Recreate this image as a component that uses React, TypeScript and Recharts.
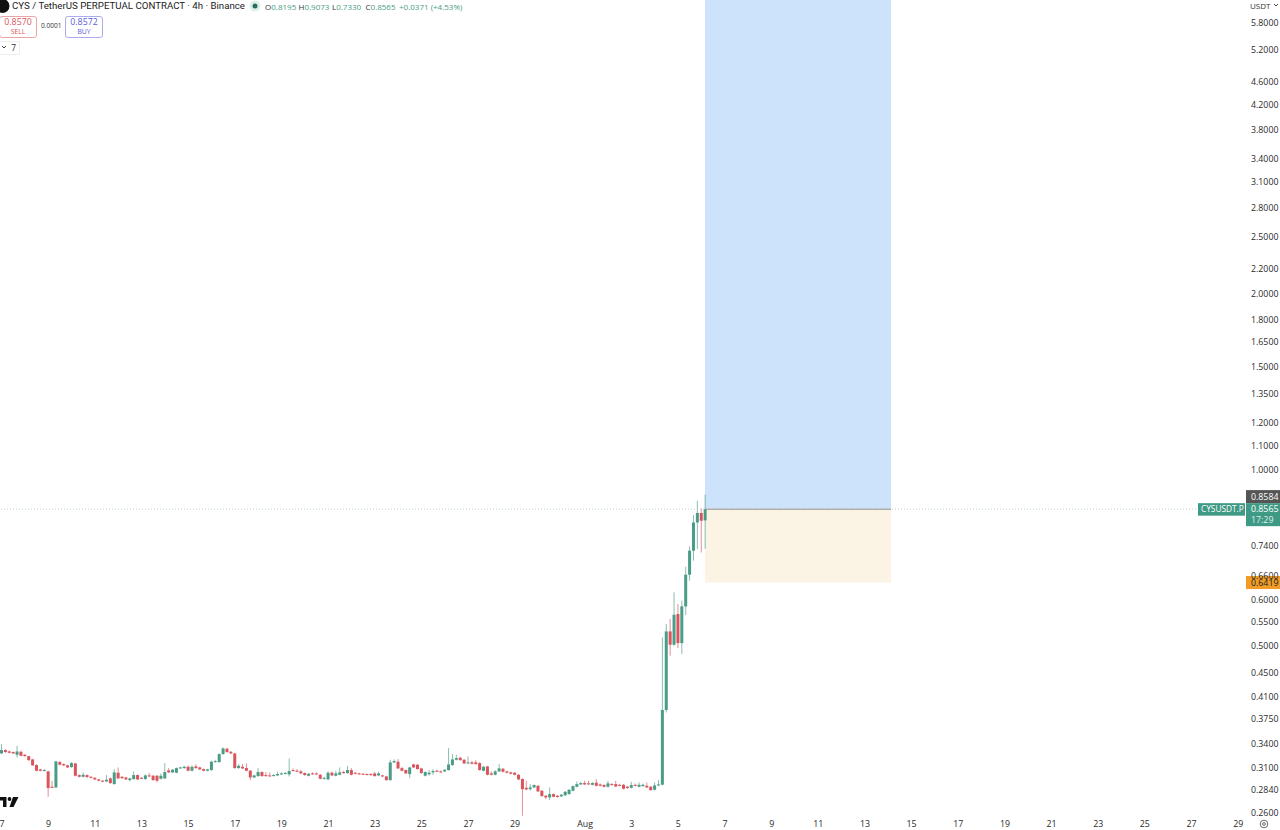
import { Bar, ComposedChart, ReferenceArea, ReferenceLine, XAxis, YAxis } from 'recharts';

const opens = [
	0.3280, 0.3323, 0.3305, 0.3297, 0.3262, 0.3301, 0.3262, 0.3245, 0.3203, 0.3133, 0.3080, 0.3060, 0.3056, 0.2877, 0.2869, 0.3170,
	0.3145, 0.3129, 0.3108, 0.3153, 0.3012, 0.2992, 0.3012, 0.2992, 0.2980, 0.2961, 0.2946, 0.2938, 0.2973, 0.2907, 0.3040, 0.2992,
	0.2984, 0.2953, 0.2965, 0.3012, 0.2980, 0.2965, 0.3008, 0.3004, 0.3004, 0.2969, 0.2973, 0.3068, 0.3044, 0.3040, 0.3092, 0.3096,
	0.3112, 0.3064, 0.3116, 0.3104, 0.3084, 0.3064, 0.3072, 0.3170, 0.3170, 0.3271, 0.3340, 0.3301, 0.3280, 0.3096, 0.3112, 0.3096,
	0.3064, 0.2984, 0.3000, 0.3048, 0.3012, 0.3008, 0.3004, 0.3008, 0.3020, 0.3028, 0.3020, 0.3072, 0.3064, 0.3056, 0.3036, 0.3004,
	0.3032, 0.3032, 0.3016, 0.2969, 0.2961, 0.3040, 0.3004, 0.3016, 0.3048, 0.3036, 0.3072, 0.3040, 0.3032, 0.3028, 0.3024, 0.3024,
	0.3032, 0.3008, 0.3008, 0.2996, 0.2953, 0.3166, 0.3174, 0.3096, 0.3072, 0.3024, 0.3141, 0.3137, 0.3092, 0.3004, 0.3020, 0.3044,
	0.3064, 0.3056, 0.3056, 0.3072, 0.3133, 0.3199, 0.3224, 0.3199, 0.3153, 0.3166, 0.3166, 0.3157, 0.3064, 0.3116, 0.3032, 0.3016,
	0.3056, 0.3088, 0.3056, 0.3044, 0.3040, 0.3016, 0.2965, 0.2865, 0.2850, 0.2869, 0.2888, 0.2832, 0.2777, 0.2759, 0.2795, 0.2777,
	0.2770, 0.2781, 0.2795, 0.2832, 0.2877, 0.2903, 0.2919, 0.2915, 0.2899, 0.2923, 0.2903, 0.2896, 0.2877, 0.2907, 0.2907, 0.2899,
	0.2899, 0.2877, 0.2865, 0.2899, 0.2877, 0.2884, 0.2888, 0.2877, 0.2843, 0.2892, 0.2900, 0.3890, 0.5297, 0.5027, 0.5672, 0.5060,
	0.5845, 0.6620, 0.7275, 0.8128, 0.8438, 0.8195,
];
const highs = [
	0.3402, 0.3336, 0.3314, 0.3305, 0.3380, 0.3314, 0.3271, 0.3249, 0.3211, 0.3145, 0.3088, 0.3084, 0.3064, 0.2946, 0.3186, 0.3182,
	0.3153, 0.3137, 0.3170, 0.3161, 0.3020, 0.3044, 0.3020, 0.3000, 0.2988, 0.2969, 0.2953, 0.3012, 0.2984, 0.3084, 0.3104, 0.3000,
	0.2992, 0.2980, 0.3056, 0.3020, 0.2988, 0.3020, 0.3036, 0.3012, 0.3012, 0.3032, 0.3157, 0.3096, 0.3084, 0.3104, 0.3112, 0.3124,
	0.3129, 0.3129, 0.3145, 0.3112, 0.3092, 0.3088, 0.3186, 0.3194, 0.3280, 0.3358, 0.3353, 0.3310, 0.3288, 0.3145, 0.3145, 0.3153,
	0.3072, 0.3016, 0.3096, 0.3056, 0.3048, 0.3044, 0.3024, 0.3052, 0.3044, 0.3048, 0.3216, 0.3092, 0.3084, 0.3072, 0.3044, 0.3036,
	0.3044, 0.3044, 0.3024, 0.2992, 0.3056, 0.3056, 0.3064, 0.3104, 0.3064, 0.3124, 0.3096, 0.3048, 0.3040, 0.3036, 0.3032, 0.3032,
	0.3048, 0.3052, 0.3016, 0.3004, 0.3199, 0.3203, 0.3207, 0.3112, 0.3080, 0.3112, 0.3149, 0.3145, 0.3100, 0.3056, 0.3072, 0.3084,
	0.3076, 0.3068, 0.3084, 0.3349, 0.3271, 0.3262, 0.3237, 0.3207, 0.3241, 0.3186, 0.3194, 0.3170, 0.3120, 0.3124, 0.3056, 0.3072,
	0.3145, 0.3096, 0.3064, 0.3052, 0.3048, 0.3024, 0.2973, 0.2946, 0.2907, 0.2903, 0.2896, 0.2839, 0.2784, 0.2869, 0.2803, 0.2784,
	0.2795, 0.2828, 0.2850, 0.2892, 0.2938, 0.2930, 0.2946, 0.2946, 0.2930, 0.2965, 0.2915, 0.2907, 0.2946, 0.2919, 0.2946, 0.2911,
	0.2907, 0.2888, 0.2934, 0.2915, 0.2926, 0.2911, 0.2926, 0.2884, 0.2926, 0.2953, 0.5174, 0.5455, 0.5563, 0.6175, 0.5899, 0.5977,
	0.6831, 0.7399, 0.8371, 0.8854, 0.8591, 0.9073,
];
const lows = [
	0.3271, 0.3288, 0.3280, 0.3271, 0.3228, 0.3245, 0.3237, 0.3186, 0.3124, 0.3056, 0.3056, 0.3056, 0.2766, 0.2862, 0.2862, 0.3129,
	0.3120, 0.3096, 0.3100, 0.2996, 0.2984, 0.2984, 0.2980, 0.2973, 0.2953, 0.2938, 0.2930, 0.2930, 0.2907, 0.2903, 0.2965, 0.2965,
	0.2953, 0.2938, 0.2957, 0.2953, 0.2965, 0.2957, 0.2988, 0.2946, 0.2926, 0.2961, 0.2965, 0.3036, 0.3036, 0.3032, 0.3084, 0.3088,
	0.3056, 0.3056, 0.3088, 0.3072, 0.3056, 0.3056, 0.3064, 0.3161, 0.3161, 0.3262, 0.3288, 0.3271, 0.3088, 0.3088, 0.3084, 0.3056,
	0.2953, 0.2976, 0.2992, 0.2992, 0.2992, 0.2992, 0.2996, 0.3000, 0.3012, 0.3020, 0.2996, 0.3056, 0.3048, 0.3024, 0.3004, 0.2996,
	0.3016, 0.3012, 0.2961, 0.2957, 0.2953, 0.3000, 0.2996, 0.3008, 0.3028, 0.3028, 0.3008, 0.3020, 0.3016, 0.3012, 0.3008, 0.3004,
	0.2992, 0.3000, 0.2988, 0.2946, 0.2946, 0.3157, 0.3084, 0.3056, 0.3024, 0.2973, 0.3096, 0.3076, 0.3028, 0.2996, 0.3008, 0.3016,
	0.3048, 0.3040, 0.3048, 0.3064, 0.3124, 0.3190, 0.3186, 0.3145, 0.3145, 0.3141, 0.3137, 0.3064, 0.3056, 0.3008, 0.3008, 0.3008,
	0.3048, 0.3044, 0.3032, 0.3020, 0.3008, 0.2953, 0.2567, 0.2839, 0.2832, 0.2862, 0.2818, 0.2766, 0.2741, 0.2730, 0.2759, 0.2755,
	0.2763, 0.2773, 0.2788, 0.2825, 0.2869, 0.2896, 0.2896, 0.2899, 0.2892, 0.2880, 0.2880, 0.2869, 0.2869, 0.2888, 0.2873, 0.2884,
	0.2847, 0.2854, 0.2858, 0.2880, 0.2869, 0.2877, 0.2862, 0.2832, 0.2836, 0.2884, 0.2892, 0.3853, 0.4816, 0.5007, 0.4962, 0.4846,
	0.5650, 0.6466, 0.6994, 0.7323, 0.7226, 0.7330,
];
const closes = [
	0.3323, 0.3297, 0.3288, 0.3280, 0.3305, 0.3249, 0.3245, 0.3194, 0.3129, 0.3064, 0.3064, 0.3072, 0.2862, 0.2865, 0.3178, 0.3137,
	0.3129, 0.3104, 0.3157, 0.3004, 0.2992, 0.3016, 0.2988, 0.2980, 0.2961, 0.2946, 0.2938, 0.2957, 0.2919, 0.3044, 0.2973, 0.2976,
	0.2961, 0.2973, 0.3012, 0.2961, 0.2973, 0.3008, 0.2996, 0.2953, 0.2946, 0.3004, 0.3048, 0.3044, 0.3076, 0.3096, 0.3104, 0.3112,
	0.3064, 0.3112, 0.3096, 0.3080, 0.3064, 0.3080, 0.3174, 0.3182, 0.3271, 0.3345, 0.3297, 0.3280, 0.3096, 0.3124, 0.3092, 0.3064,
	0.2984, 0.3008, 0.3048, 0.3000, 0.3000, 0.3000, 0.3012, 0.3024, 0.3032, 0.3036, 0.3060, 0.3064, 0.3056, 0.3032, 0.3012, 0.3028,
	0.3024, 0.3020, 0.2969, 0.2980, 0.3040, 0.3008, 0.3032, 0.3044, 0.3036, 0.3072, 0.3016, 0.3028, 0.3024, 0.3020, 0.3016, 0.3012,
	0.3000, 0.3032, 0.2996, 0.2953, 0.3166, 0.3182, 0.3092, 0.3064, 0.3032, 0.3104, 0.3104, 0.3084, 0.3036, 0.3048, 0.3040, 0.3060,
	0.3056, 0.3052, 0.3076, 0.3141, 0.3203, 0.3220, 0.3194, 0.3153, 0.3166, 0.3149, 0.3145, 0.3072, 0.3112, 0.3016, 0.3016, 0.3056,
	0.3092, 0.3052, 0.3040, 0.3028, 0.3016, 0.2961, 0.2850, 0.2847, 0.2869, 0.2896, 0.2825, 0.2773, 0.2759, 0.2795, 0.2766, 0.2763,
	0.2788, 0.2821, 0.2843, 0.2884, 0.2907, 0.2919, 0.2903, 0.2907, 0.2919, 0.2888, 0.2888, 0.2877, 0.2915, 0.2896, 0.2880, 0.2892,
	0.2854, 0.2862, 0.2896, 0.2888, 0.2899, 0.2899, 0.2869, 0.2839, 0.2892, 0.2903, 0.3890, 0.5297, 0.5027, 0.5655, 0.5060, 0.5845,
	0.6620, 0.7275, 0.8128, 0.8438, 0.8185, 0.8565,
];

const priceTicks = [
	5.8, 5.2, 4.6, 4.2, 3.8, 3.4, 3.1, 2.8, 2.5, 2.2, 2.0, 1.8, 1.65, 1.5, 1.35, 1.2, 1.1, 1.0, 0.74, 0.66, 0.6, 0.55, 0.5, 0.45, 0.41,
	0.375, 0.34, 0.31, 0.284, 0.26,
];
const timeTicks = [
	0, 12, 24, 36, 48, 60, 72, 84, 96, 108, 120, 132, 150, 162, 174, 186, 198, 210, 222, 234, 246, 258, 270, 282, 294, 306, 318,
];
const timeLabels = [
	'7', '9', '11', '13', '15', '17', '19', '21', '23', '25', '27', '29', 'Aug', '3', '5', '7', '9', '11', '13', '15', '17', '19', '21',
	'23', '25', '27', '29',
];

const lastPrice = 0.8565;
const markPrice = 0.8584;
const stopPrice = 0.6419;
const targetPrice = 6.336;
const minPrice = 0.25444;
const positionStart = 180.85;
const positionEnd = 228.7;

const UP = '#4a9c86';
const DOWN = '#d9545c';

const candles = opens.map((open, i) => ({
	i,
	open,
	close: closes[i],
	high: highs[i],
	low: lows[i],
	range: [lows[i], highs[i]],
}));

function Candle(props: any) {
	const { x, y, width, height, payload } = props;
	const { open, close, high, low } = payload;
	const color = close >= open ? UP : DOWN;
	const cx = x + width / 2;
	// bar covers low..high on the log scale, so the body is placed inside it
	const span = Math.log(high / low);
	const yOf = (p: number) => y + (height * Math.log(high / p)) / span;
	const top = yOf(Math.max(open, close));
	const bottom = yOf(Math.min(open, close));
	return (
		<g>
			<rect x={cx - 0.5} y={y} width={1} height={height} fill={color} fillOpacity={0.65} />
			<rect x={x} y={top} width={width} height={Math.max(bottom - top, 1)} fill={color} />
		</g>
	);
}

function PriceTag(props: any) {
	const { viewBox, text, fill, shift = 0, color = '#fff' } = props;
	const mid = viewBox.y + shift;
	return (
		<g>
			<rect x={1246} y={mid - 6.5} width={34} height={13} fill={fill} />
			<text x={1251} y={mid + 3} fontSize={8.8} fill={color} fontFamily="Open Sans">
				{text}
			</text>
		</g>
	);
}

function LastTag(props: any) {
	const { viewBox } = props;
	const mid = viewBox.y;
	return (
		<g fontFamily="Open Sans" fontSize={8.8} fill="#fff">
			<rect x={1198} y={mid - 6} width={47} height={12.5} fill="#3f9a85" />
			<text x={1201} y={mid + 3} fontSize={8.3}>
				CYSUSDT.P
			</text>
			<rect x={1246} y={mid - 6} width={34} height={23} fill="#3f9a85" />
			<text x={1251} y={mid + 3}>{lastPrice.toFixed(4)}</text>
			<text x={1251} y={mid + 13.5} fillOpacity={0.85}>
				17:29
			</text>
		</g>
	);
}

function Header() {
	const ohlc = [
		['O', '0.8195'],
		['H', '0.9073'],
		['L', '0.7330'],
		['C', '0.8565'],
	];
	return (
		<>
			<svg style={{ position: 'absolute', left: 0, top: 0 }} width={20} height={14}>
				<circle cx={2.5} cy={6} r={7} fill="#111" />
			</svg>
			<div
				style={{
					position: 'absolute',
					left: 12,
					top: -1,
					fontFamily: 'Roboto',
					fontSize: 9.7,
					color: '#222',
					whiteSpace: 'nowrap',
					lineHeight: '14px',
				}}
			>
				CYS / TetherUS PERPETUAL CONTRACT · 4h · Binance
			</div>
			<svg style={{ position: 'absolute', left: 249, top: 0 }} width={12} height={12}>
				<circle cx={6} cy={6} r={5.5} fill="#dff0ea" />
				<circle cx={6} cy={6} r={2.5} fill="#2a6f5c" />
			</svg>
			<div style={{ position: 'absolute', left: 265, top: 0, fontSize: 8, color: UP, whiteSpace: 'nowrap', lineHeight: '13px' }}>
				{ohlc.map(([k, v]) => (
					<span key={k} style={{ display: 'inline-block', width: 33.5 }}>
						<span style={{ color: '#333' }}>{k}</span>
						{v}
					</span>
				))}
				<span>+0.0371 (+4.53%)</span>
			</div>
			<div
				style={{
					position: 'absolute',
					left: -1,
					top: 16,
					width: 36,
					height: 20,
					border: '1px solid #e6a5a8',
					borderRadius: 3,
					textAlign: 'center',
					color: '#d9545c',
					fontSize: 8.8,
					lineHeight: '11px',
				}}
			>
				0.8570
				<div style={{ fontSize: 6.8, lineHeight: '8px' }}>SELL</div>
			</div>
			<div style={{ position: 'absolute', left: 41, top: 21, fontSize: 6.6, color: '#333', lineHeight: '10px' }}>0.0001</div>
			<div
				style={{
					position: 'absolute',
					left: 65,
					top: 16,
					width: 36,
					height: 20,
					border: '1px solid #a9adf0',
					borderRadius: 3,
					textAlign: 'center',
					color: '#5a60d8',
					fontSize: 8.8,
					lineHeight: '11px',
				}}
			>
				0.8572
				<div style={{ fontSize: 6.8, lineHeight: '8px' }}>BUY</div>
			</div>
			<div
				style={{
					position: 'absolute',
					left: -1,
					top: 41,
					width: 16,
					height: 12,
					border: '1px solid #eee',
					borderRadius: 2,
					fontSize: 8.4,
					color: '#333',
					lineHeight: '12px',
					textAlign: 'right',
					paddingRight: 3,
				}}
			>
				7
			</div>
			<svg style={{ position: 'absolute', left: 1, top: 45 }} width={6} height={5}>
				<path d="M1 1L3 3L5 1" fill="none" stroke="#333" strokeWidth={0.9} />
			</svg>
			<div style={{ position: 'absolute', left: 1250, top: 0, fontSize: 8, color: '#333', lineHeight: '12px', whiteSpace: 'nowrap' }}>
				USDT
			</div>
			<svg style={{ position: 'absolute', left: 1273, top: 3 }} width={6} height={5}>
				<path d="M1 1L3 3L5 1" fill="none" stroke="#333" strokeWidth={0.9} />
			</svg>
			<svg style={{ position: 'absolute', left: 1258, top: 818 }} width={12} height={12}>
				<circle cx={6} cy={6} r={3.8} fill="none" stroke="#444" strokeWidth={0.8} />
				<circle cx={6} cy={6} r={1.4} fill="none" stroke="#444" strokeWidth={0.8} />
			</svg>
			<svg style={{ position: 'absolute', left: 0, top: 796 }} width={20} height={12}>
				<path d="M0 1H6.5V11H3V4.5H0Z M13 1H18.5L13.5 11H9.5Z" fill="#111" />
				<circle cx={9.5} cy={3} r={1.9} fill="#111" />
			</svg>
		</>
	);
}

export default function App() {
	return (
		<div
			style={{
				position: 'absolute',
				left: 0,
				top: 0,
				width: 1280,
				height: 830,
				overflow: 'hidden',
				background: '#fff',
				fontFamily: 'Open Sans',
			}}
		>
			<ComposedChart width={1280} height={830} data={candles} margin={{ top: 0, right: 0, bottom: 0, left: 0 }}>
				<XAxis
					dataKey="i"
					type="number"
					domain={[-0.5, 319.5]}
					allowDataOverflow
					ticks={timeTicks}
					interval={0}
					height={12}
					axisLine={false}
					tickLine={false}
					tickSize={0}
					tickMargin={3}
					tickFormatter={(v: number) => timeLabels[timeTicks.indexOf(v)]}
					tick={{ fontSize: 8.8, fill: '#2a2a2a', fontFamily: 'Open Sans' }}
				/>
				<YAxis
					orientation="right"
					scale="log"
					domain={[minPrice, targetPrice]}
					allowDataOverflow
					ticks={priceTicks}
					interval={0}
					width={36}
					axisLine={false}
					tickLine={false}
					tickSize={0}
					tickMargin={7}
					tickFormatter={(v: number) => v.toFixed(4)}
					tick={{ fontSize: 8.8, fill: '#2a2a2a', fontFamily: 'Open Sans' }}
				/>
				<ReferenceArea
					x1={positionStart}
					x2={positionEnd}
					y1={markPrice}
					y2={targetPrice}
					fill="#cde3fb"
					fillOpacity={1}
					stroke="none"
				/>
				<ReferenceArea
					x1={positionStart}
					x2={positionEnd}
					y1={stopPrice}
					y2={lastPrice}
					fill="#fbf3e4"
					fillOpacity={1}
					stroke="none"
				/>
				<ReferenceLine y={lastPrice} stroke="#bdd2cc" strokeDasharray="1 2" label={<LastTag />} />
				<ReferenceLine
					segment={[
						{ x: positionStart, y: lastPrice },
						{ x: positionEnd, y: lastPrice },
					]}
					stroke="#8a8a8a"
				/>
				<ReferenceLine y={markPrice} stroke="none" label={<PriceTag text={markPrice.toFixed(4)} fill="#555" shift={-12} />} />
				<ReferenceLine y={stopPrice} stroke="none" label={<PriceTag text={stopPrice.toFixed(4)} fill="#f09c27" color="#222" />} />
				<Bar dataKey="range" barSize={3} shape={Candle} isAnimationActive={false} />
			</ComposedChart>
			<Header />
		</div>
	);
}
